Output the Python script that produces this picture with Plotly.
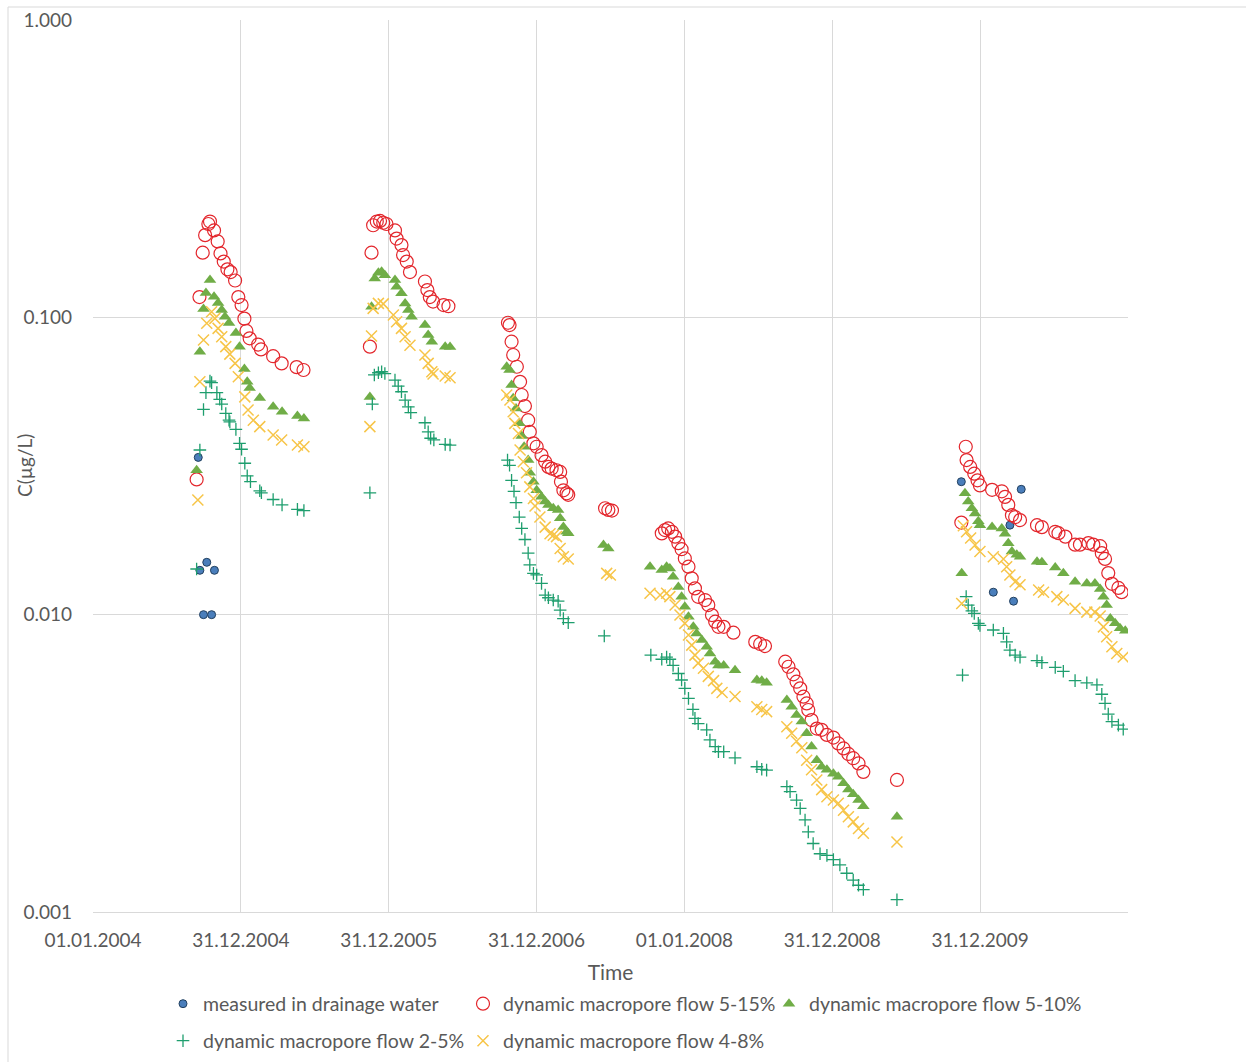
import plotly.graph_objects as go

# ---------------- data ----------------
measured_dates = ["2004-09-17", "2004-09-21", "2004-09-30", "2004-10-08", "2004-10-20", "2004-10-27",
                  "2009-11-15", "2010-02-02", "2010-03-15", "2010-03-24", "2010-04-12"]
measured_vals = [0.0338, 0.0141, 0.0100, 0.0150, 0.0100, 0.0141,
                 0.0280, 0.0119, 0.0200, 0.0111, 0.0264]

mp_5_15_dates = [
    "2004-09-13", "2004-09-20", "2004-09-28", "2004-10-04", "2004-10-12", "2004-10-16", "2004-10-26",
    "2004-11-04", "2004-11-11", "2004-11-19", "2004-11-28", "2004-12-06", "2004-12-17", "2004-12-25",
    "2005-01-02", "2005-01-09", "2005-01-14", "2005-01-22", "2005-02-12", "2005-02-19", "2005-03-21",
    "2005-04-11", "2005-05-18", "2005-06-04",
    "2005-11-15", "2005-11-19", "2005-11-23", "2005-12-02", "2005-12-10", "2005-12-18", "2005-12-26",
    "2006-01-16", "2006-01-20", "2006-02-01", "2006-02-05", "2006-02-14", "2006-02-22", "2006-03-31",
    "2006-04-06", "2006-04-12", "2006-04-20", "2006-05-16", "2006-05-28",
    "2006-10-22", "2006-10-26", "2006-10-31", "2006-11-04", "2006-11-13", "2006-11-21", "2006-11-25",
    "2006-12-03", "2006-12-11", "2006-12-15", "2006-12-24", "2007-01-01", "2007-01-13", "2007-01-22",
    "2007-01-30", "2007-02-07", "2007-02-19", "2007-02-28", "2007-03-02", "2007-03-08", "2007-03-16",
    "2007-03-20", "2007-06-19", "2007-06-27", "2007-07-06",
    "2007-11-06", "2007-11-14", "2007-11-22", "2007-12-01", "2007-12-09", "2007-12-17", "2007-12-25",
    "2008-01-02", "2008-01-11", "2008-01-19", "2008-01-27", "2008-02-04", "2008-02-21", "2008-02-29",
    "2008-03-09", "2008-03-17", "2008-03-25", "2008-04-07", "2008-05-01", "2008-06-24", "2008-07-06",
    "2008-07-18", "2008-09-06", "2008-09-14", "2008-09-26", "2008-10-04", "2008-10-13", "2008-10-21",
    "2008-10-29", "2008-11-02", "2008-11-10", "2008-11-23", "2008-12-05", "2008-12-18", "2009-01-03",
    "2009-01-15", "2009-01-28", "2009-02-09", "2009-02-21", "2009-03-06", "2009-03-18", "2009-06-09",
    "2009-11-15", "2009-11-26", "2009-11-28", "2009-12-07", "2009-12-17", "2009-12-25", "2009-12-31",
    "2010-01-30", "2010-02-23", "2010-03-03", "2010-03-11", "2010-03-20", "2010-03-28", "2010-04-09",
    "2010-05-21", "2010-06-02", "2010-07-05", "2010-07-13", "2010-07-30", "2010-08-23", "2010-09-04",
    "2010-09-25", "2010-10-07", "2010-10-24", "2010-10-28", "2010-11-05", "2010-11-13", "2010-11-22",
    "2010-12-08", "2010-12-16"]
mp_5_15_vals = [
    0.0285, 0.117, 0.165, 0.189, 0.206, 0.210, 0.196,
    0.180, 0.164, 0.154, 0.145, 0.142, 0.133, 0.117,
    0.110, 0.099, 0.090, 0.085, 0.081, 0.078, 0.074,
    0.070, 0.068, 0.0665,
    0.0797, 0.165, 0.204, 0.210, 0.211, 0.208, 0.206,
    0.196, 0.184, 0.175, 0.162, 0.154, 0.142, 0.132,
    0.1235, 0.117, 0.113, 0.110, 0.109,
    0.0959, 0.0942, 0.0828, 0.0747, 0.0682, 0.0607, 0.0548,
    0.0503, 0.0451, 0.0412, 0.0377, 0.0367, 0.0344, 0.0327,
    0.0314, 0.0310, 0.0306, 0.0302, 0.0280, 0.0262, 0.0256,
    0.0253, 0.0228, 0.0225, 0.0224,
    0.01877, 0.01926, 0.0195, 0.0190, 0.0183, 0.0174, 0.0166,
    0.01546, 0.0145, 0.01325, 0.01226, 0.01148, 0.0112, 0.01077,
    0.00997, 0.00947, 0.0091, 0.0091, 0.0087, 0.0081, 0.00797,
    0.00784, 0.00695, 0.00668, 0.0063, 0.00595, 0.00565, 0.0053,
    0.00503, 0.00478, 0.00442, 0.00414, 0.0041, 0.00394, 0.00386,
    0.00369, 0.00355, 0.0034, 0.00329, 0.00316, 0.00296, 0.00278,
    0.0204, 0.0367, 0.0331, 0.0314, 0.0298, 0.0283, 0.0272,
    0.0263, 0.0260, 0.0249, 0.0234, 0.0216, 0.0213, 0.0208,
    0.0200, 0.0197, 0.0190, 0.0188, 0.0183, 0.0172, 0.0172,
    0.0174, 0.0172, 0.0170, 0.0161, 0.0154, 0.0138, 0.0127,
    0.0123, 0.0119]

mp_5_10_dates = [
    "2004-09-13", "2004-09-21", "2004-09-30", "2004-10-06", "2004-10-16", "2004-10-26", "2004-11-05",
    "2004-11-14", "2004-11-22", "2004-12-02", "2004-12-19", "2004-12-28", "2005-01-09", "2005-01-16",
    "2005-01-22", "2005-02-16", "2005-03-21", "2005-04-12", "2005-05-20", "2005-06-05",
    "2005-11-15", "2005-11-19", "2005-11-27", "2005-12-06", "2005-12-14", "2005-12-22", "2006-01-16",
    "2006-01-20", "2006-02-01", "2006-02-10", "2006-02-18", "2006-02-26", "2006-03-31", "2006-04-08",
    "2006-04-17", "2006-05-20", "2006-06-01",
    "2006-10-19", "2006-10-26", "2006-10-31", "2006-11-04", "2006-11-11", "2006-11-19", "2006-11-25",
    "2006-12-01", "2006-12-11", "2006-12-15", "2006-12-24", "2007-01-01", "2007-01-13", "2007-01-22",
    "2007-01-30", "2007-02-11", "2007-02-23", "2007-02-28", "2007-03-08", "2007-03-16", "2007-03-20",
    "2007-06-15", "2007-06-27",
    "2007-10-08", "2007-11-06", "2007-11-18", "2007-11-26", "2007-12-04", "2007-12-17", "2007-12-25",
    "2008-01-02", "2008-01-11", "2008-01-23", "2008-01-31", "2008-02-13", "2008-02-25", "2008-03-04",
    "2008-03-17", "2008-03-25", "2008-04-07", "2008-05-05", "2008-06-28", "2008-07-10", "2008-07-22",
    "2008-09-10", "2008-09-22", "2008-10-04", "2008-10-17", "2008-10-29", "2008-11-10", "2008-11-23",
    "2008-12-05", "2008-12-18", "2009-01-03", "2009-01-15", "2009-01-28", "2009-02-09", "2009-02-21",
    "2009-03-06", "2009-03-18", "2009-06-09",
    "2009-11-16", "2009-11-24", "2009-12-02", "2009-12-11", "2009-12-19", "2009-12-27", "2009-12-31",
    "2010-01-30", "2010-02-23", "2010-03-03", "2010-03-11", "2010-03-20", "2010-04-01", "2010-04-09",
    "2010-05-21", "2010-06-02", "2010-07-05", "2010-07-25", "2010-08-23", "2010-09-21", "2010-10-11",
    "2010-10-24", "2010-11-01", "2010-11-09", "2010-11-18", "2010-11-30", "2010-12-12", "2010-12-25"]
mp_5_10_vals = [
    0.0306, 0.0766, 0.1066, 0.1207, 0.1335, 0.1173, 0.1117,
    0.1058, 0.1005, 0.0957, 0.0886, 0.0797, 0.067, 0.0607,
    0.0578, 0.0535, 0.050, 0.0481, 0.0466, 0.0457,
    0.054, 0.1085, 0.1352, 0.1413, 0.1423, 0.1385, 0.1335,
    0.1267, 0.1204, 0.1114, 0.1058, 0.1005, 0.0942, 0.0872,
    0.0828, 0.0797, 0.0794,
    0.0682, 0.0665, 0.0592, 0.0534, 0.0494, 0.044, 0.0399,
    0.0367, 0.0331, 0.030, 0.028, 0.0262, 0.0249, 0.024,
    0.0234, 0.0228, 0.0225, 0.0211, 0.0197, 0.019, 0.0188,
    0.01715, 0.0167,
    0.0145, 0.01413, 0.0145, 0.0143, 0.0134, 0.0124, 0.01148,
    0.01063, 0.00984, 0.0091, 0.00865, 0.00822, 0.0078, 0.0074,
    0.00695, 0.00675, 0.00675, 0.0065, 0.00603, 0.0060, 0.0059,
    0.00516, 0.0049, 0.0046, 0.00437, 0.00399, 0.0036, 0.00324,
    0.00308, 0.00301, 0.00292, 0.00285, 0.00271, 0.00258, 0.00249,
    0.00238, 0.00227, 0.00209,
    0.01377, 0.0256, 0.024, 0.0228, 0.0219, 0.0206, 0.0200,
    0.0197, 0.0195, 0.0187, 0.0174, 0.0163, 0.0159, 0.01566,
    0.01507, 0.0150, 0.0144, 0.01377, 0.0129, 0.01274, 0.01274,
    0.0122, 0.01148, 0.01077, 0.0097, 0.00935, 0.0090, 0.00883]

mp_2_5_dates = [
    "2004-09-13", "2004-09-21", "2004-09-30", "2004-10-06", "2004-10-16", "2004-10-20", "2004-11-02",
    "2004-11-09", "2004-11-14", "2004-11-24", "2004-12-02", "2004-12-04", "2004-12-19", "2004-12-28",
    "2005-01-02", "2005-01-10", "2005-01-16", "2005-01-24", "2005-02-16", "2005-02-20", "2005-03-21",
    "2005-04-12", "2005-05-20", "2005-06-05",
    "2005-11-15", "2005-11-21", "2005-11-26", "2005-12-06", "2005-12-14", "2005-12-22", "2006-01-16",
    "2006-01-24", "2006-02-01", "2006-02-10", "2006-02-18", "2006-02-24", "2006-03-31", "2006-04-08",
    "2006-04-14", "2006-04-22", "2006-05-20", "2006-06-01",
    "2006-10-21", "2006-10-26", "2006-10-31", "2006-11-06", "2006-11-11", "2006-11-19", "2006-11-25",
    "2006-12-03", "2006-12-11", "2006-12-15", "2006-12-24", "2007-01-01", "2007-01-13", "2007-01-22",
    "2007-01-30", "2007-02-11", "2007-02-23", "2007-02-28", "2007-03-08", "2007-03-20", "2007-06-17",
    "2007-10-10", "2007-11-06", "2007-11-18", "2007-11-26", "2007-12-04", "2007-12-17", "2007-12-25",
    "2008-01-02", "2008-01-11", "2008-01-22", "2008-01-27", "2008-02-04", "2008-02-25", "2008-03-04",
    "2008-03-17", "2008-03-25", "2008-04-07", "2008-05-05", "2008-06-28", "2008-07-10", "2008-07-22",
    "2008-09-10", "2008-09-18", "2008-10-04", "2008-10-13", "2008-10-25", "2008-11-02", "2008-11-14",
    "2008-12-01", "2008-12-18", "2009-01-03", "2009-01-19", "2009-02-05", "2009-02-21", "2009-03-06",
    "2009-03-18", "2009-06-09",
    "2009-11-18", "2009-11-27", "2009-12-02", "2009-12-11", "2009-12-17", "2009-12-27", "2009-12-31",
    "2010-02-02", "2010-02-27", "2010-03-07", "2010-03-15", "2010-03-28", "2010-04-09", "2010-05-21",
    "2010-06-02", "2010-07-05", "2010-07-25", "2010-08-23", "2010-09-21", "2010-10-16", "2010-10-28",
    "2010-11-05", "2010-11-13", "2010-11-22", "2010-12-08", "2010-12-20"]
mp_2_5_vals = [
    0.01424, 0.0358, 0.049, 0.0558, 0.061, 0.0603, 0.0558,
    0.053, 0.0511, 0.0475, 0.0451, 0.0445, 0.042, 0.0377,
    0.036, 0.0323, 0.0293, 0.028, 0.0261, 0.0257, 0.0244,
    0.0234, 0.0226, 0.0224,
    0.0257, 0.0511, 0.064, 0.0651, 0.0656, 0.0647, 0.0615,
    0.0587, 0.0562, 0.0527, 0.050, 0.0478, 0.0442, 0.0412,
    0.0392, 0.0387, 0.0374, 0.0372,
    0.0331, 0.0318, 0.0283, 0.026, 0.0238, 0.0213, 0.0195,
    0.0179, 0.0161, 0.0147, 0.01377, 0.0136, 0.01274, 0.01164,
    0.0114, 0.0112, 0.0111, 0.01036, 0.0097, 0.0094, 0.00848,
    0.00731, 0.00708, 0.0072, 0.00708, 0.00675, 0.00634, 0.00603,
    0.00565, 0.00523, 0.0048, 0.00448, 0.0043, 0.0041, 0.00379,
    0.0036, 0.00346, 0.00346, 0.0033, 0.00308, 0.00302, 0.0030,
    0.00264, 0.00254, 0.00238, 0.00223, 0.00204, 0.00186, 0.0017,
    0.00157, 0.00155, 0.0015, 0.00144, 0.00135, 0.00128, 0.00123,
    0.00119, 0.0011,
    0.00626, 0.0115, 0.01077, 0.0103, 0.0101, 0.00935, 0.0092,
    0.00888, 0.00865, 0.0081, 0.0076, 0.00731, 0.0072, 0.0070,
    0.0069, 0.00665, 0.00645, 0.0060, 0.0059, 0.00581, 0.0054,
    0.00503, 0.00463, 0.00437, 0.00425, 0.00412]

mp_4_8_dates = [
    "2004-09-16", "2004-09-21", "2004-09-30", "2004-10-08", "2004-10-20", "2004-10-28", "2004-11-05",
    "2004-11-14", "2004-11-24", "2004-12-04", "2004-12-17", "2004-12-25", "2005-01-10", "2005-01-18",
    "2005-01-31", "2005-02-16", "2005-03-21", "2005-04-11", "2005-05-20", "2005-06-05",
    "2005-11-15", "2005-11-19", "2005-11-23", "2005-12-06", "2005-12-18", "2006-01-12", "2006-01-20",
    "2006-02-01", "2006-02-10", "2006-02-22", "2006-03-31", "2006-04-08", "2006-04-17", "2006-04-20",
    "2006-05-20", "2006-06-01",
    "2006-10-19", "2006-10-27", "2006-11-04", "2006-11-08", "2006-11-17", "2006-11-21", "2006-11-29",
    "2006-12-07", "2006-12-15", "2006-12-24", "2006-12-28", "2007-01-09", "2007-01-22", "2007-02-03",
    "2007-02-11", "2007-02-19", "2007-02-28", "2007-03-08", "2007-03-20", "2007-06-23", "2007-07-02",
    "2007-10-08", "2007-11-02", "2007-11-18", "2007-11-26", "2007-12-09", "2007-12-21", "2008-01-02",
    "2008-01-11", "2008-01-19", "2008-01-27", "2008-02-04", "2008-02-17", "2008-02-29", "2008-03-13",
    "2008-03-21", "2008-04-03", "2008-05-05", "2008-06-28", "2008-07-10", "2008-07-22", "2008-09-10",
    "2008-09-22", "2008-10-04", "2008-10-17", "2008-10-29", "2008-11-10", "2008-11-23", "2008-12-05",
    "2008-12-18", "2009-01-03", "2009-01-15", "2009-01-28", "2009-02-09", "2009-02-21", "2009-03-06",
    "2009-03-18", "2009-06-09",
    "2009-11-16", "2009-11-20", "2009-11-28", "2009-12-08", "2009-12-19", "2009-12-31", "2010-02-02",
    "2010-02-27", "2010-03-07", "2010-03-15", "2010-03-28", "2010-04-09", "2010-05-25", "2010-06-06",
    "2010-07-09", "2010-07-25", "2010-08-23", "2010-09-21", "2010-10-11", "2010-10-24", "2010-11-01",
    "2010-11-09", "2010-11-22", "2010-12-04", "2010-12-20"]
mp_4_8_vals = [
    0.0243, 0.0607, 0.0839, 0.0955, 0.1044, 0.0992, 0.0918,
    0.086, 0.0797, 0.0752, 0.070, 0.0631, 0.054, 0.0488,
    0.0451, 0.0429, 0.0402, 0.0387, 0.0372, 0.0367,
    0.0429, 0.0865, 0.1072, 0.1114, 0.111, 0.1018, 0.0966,
    0.0918, 0.086, 0.0806, 0.0747, 0.070, 0.0656, 0.0645,
    0.0635, 0.0626,
    0.0548, 0.0527, 0.0481, 0.044, 0.0407, 0.0358, 0.0327,
    0.030, 0.0269, 0.0246, 0.0232, 0.0213, 0.0197, 0.0187,
    0.0185, 0.0183, 0.0167, 0.01566, 0.0154, 0.01377, 0.0136,
    0.0118, 0.01164, 0.0118, 0.0115, 0.01077, 0.00997, 0.00935,
    0.00854, 0.0079, 0.00731, 0.00687, 0.0066, 0.0062, 0.0060,
    0.00565, 0.00547, 0.00531, 0.0049, 0.0048, 0.00472, 0.0042,
    0.00399, 0.00375, 0.00357, 0.00324, 0.00301, 0.00278, 0.00258,
    0.00244, 0.00238, 0.00232, 0.0022, 0.00209, 0.00201, 0.00191,
    0.00184, 0.00172,
    0.0109, 0.0199, 0.019, 0.0181, 0.01715, 0.0163, 0.01566,
    0.0154, 0.0145, 0.0136, 0.0129, 0.0126, 0.0121, 0.0119,
    0.0115, 0.0112, 0.0105, 0.0102, 0.0102, 0.0099, 0.0091,
    0.00843, 0.0078, 0.0074, 0.0072]

x_tick_vals = ["2004-01-01", "2004-12-31 06:00", "2005-12-31 12:00", "2006-12-31 18:00",
               "2008-01-01", "2008-12-31 06:00", "2009-12-31 12:00", "2010-12-31 18:00"]
x_tick_text = ["01.01.2004", "31.12.2004", "31.12.2005", "31.12.2006",
               "01.01.2008", "31.12.2008", "31.12.2009", ""]
y_tick_vals = [0.001, 0.01, 0.1, 1.0]
y_tick_text = ["0.001", "0.010", "0.100", "1.000"]

# ---------------- figure ----------------
FONT = "Lato, 'Open Sans', sans-serif"
GREY = "#595959"
W, H = 1246, 1062
PLOT_W = 1035
PLOT_H = 892

fig = go.Figure()

fig.add_trace(go.Scatter(
    x=measured_dates, y=measured_vals, mode="markers", name="measured in drainage water",
    marker=dict(symbol="circle", size=8, color="#4A7EBB", line=dict(color="#22405F", width=1)),
    legend="legend"))
fig.add_trace(go.Scatter(
    x=mp_5_15_dates, y=mp_5_15_vals, mode="markers", name="dynamic macropore flow 5-15%",
    marker=dict(symbol="circle-open", size=13, color="#E3262C", line=dict(width=1.2)),
    legend="legend2"))
fig.add_trace(go.Scatter(
    x=mp_5_10_dates, y=mp_5_10_vals, mode="markers", name="dynamic macropore flow 5-10%",
    marker=dict(symbol="triangle-up", size=11, color="#70AD47", line=dict(width=0)),
    legend="legend3"))
fig.add_trace(go.Scatter(
    x=mp_2_5_dates, y=mp_2_5_vals, mode="markers", name="dynamic macropore flow 2-5%",
    marker=dict(symbol="cross-thin", size=9, color="#1E9E6E", line=dict(color="#1E9E6E", width=1.3)),
    legend="legend4"))
fig.add_trace(go.Scatter(
    x=mp_4_8_dates, y=mp_4_8_vals, mode="markers", name="dynamic macropore flow 4-8%",
    marker=dict(symbol="x-thin", size=11, color="#F7C548", line=dict(color="#F7C548", width=1.5)),
    legend="legend5"))


def legend_at(px_left, px_mid_y):
    return dict(orientation="h", xanchor="left", yanchor="middle",
                xref="container", yref="container",
                x=px_left / W, y=1 - px_mid_y / H,
                font=dict(family=FONT, size=19.5, color=GREY),
                bgcolor="rgba(0,0,0,0)", itemwidth=30, borderwidth=0)


fig.update_layout(
    width=W, height=H,
    margin=dict(l=93, r=118, t=20, b=150, autoexpand=False),
    paper_bgcolor="white", plot_bgcolor="white",
    font=dict(family=FONT, color=GREY, size=18),
    xaxis=dict(
        type="date",
        range=["2004-01-01", "2010-12-31 18:00"],
        tickmode="array", tickvals=x_tick_vals, ticktext=x_tick_text,
        showgrid=True, gridcolor="#D9D9D9", gridwidth=1,
        showline=True, linecolor="#D9D9D9", linewidth=1,
        ticks="", ticklabelstandoff=11,
        tickfont=dict(family=FONT, size=19, color=GREY),
        title=dict(text="Time", font=dict(family=FONT, size=21, color=GREY), standoff=19),
        zeroline=False,
    ),
    yaxis=dict(
        type="log",
        range=[-3, 0],
        tickmode="array", tickvals=y_tick_vals, ticktext=y_tick_text,
        showgrid=True, gridcolor="#D9D9D9", gridwidth=1,
        showline=False, ticks="", ticklabelstandoff=20,
        tickfont=dict(family=FONT, size=19, color=GREY),
        zeroline=False,
    ),
    legend=legend_at(163, 1004),
    legend2=legend_at(463, 1004),
    legend3=legend_at(769, 1004),
    legend4=legend_at(163, 1041),
    legend5=legend_at(463, 1041),
    showlegend=True,
)

# y-axis title placed where the reference shows it
fig.add_annotation(text="C(µg/L)", xref="paper", yref="paper",
                   x=(24 - 93) / PLOT_W, y=(912 - 466) / PLOT_H,
                   xanchor="center", yanchor="middle",
                   textangle=-90, showarrow=False,
                   font=dict(family=FONT, size=19, color=GREY))

# outer chart-area frame (top and left edges visible in the picture)
fig.add_shape(type="line", xref="paper", yref="paper",
              x0=-85 / PLOT_W, x1=1.2, y0=1 + 13 / PLOT_H, y1=1 + 13 / PLOT_H,
              line=dict(color="#D9D9D9", width=1))
fig.add_shape(type="line", xref="paper", yref="paper",
              x0=-85 / PLOT_W, x1=-85 / PLOT_W, y0=1 + 13 / PLOT_H, y1=-0.2,
              line=dict(color="#D9D9D9", width=1))

fig.write_html("out.html")
